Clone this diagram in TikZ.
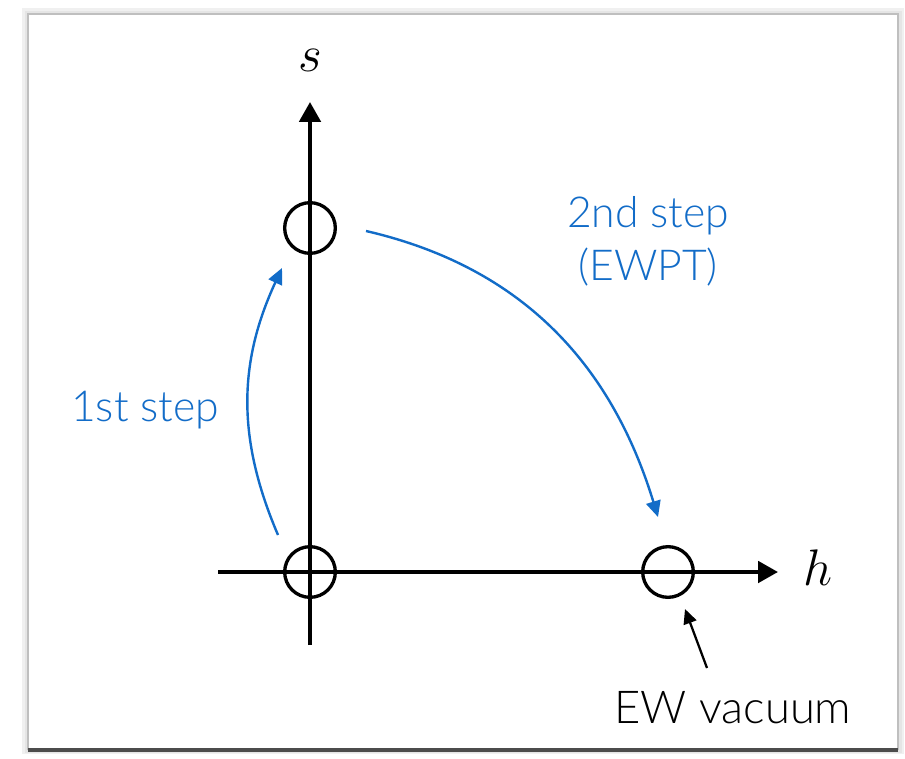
\documentclass[tikz,border=0pt]{standalone}
\usepackage{graphicx}
\usepackage{fontspec}
\setmainfont{Lato}[UprightFont=* Light]
\usetikzlibrary{arrows.meta}
\definecolor{stepblue}{RGB}{18,108,200}
\newcommand{\bigvar}[1]{\scalebox{1.55}{\fontsize{24.88}{30}\selectfont $#1$}}
\begin{document}
\begin{tikzpicture}[x=0.75pt, y=0.75pt,
        vac/.style={circle, draw, line width=2.5pt, minimum size=38pt, inner sep=0pt},
        axis/.style={line width=3pt, -{Triangle[length=15pt, width=16pt]}},
        steparrow/.style={stepblue, line width=1.8pt, -{Triangle[length=12pt, width=11pt]}},
        steplabel/.style={stepblue, font=\fontsize{32}{40}\selectfont, align=center}]
        \useasboundingbox (0, 0) rectangle (905, 758);

        % card with shadow
        \fill[black!6] (22, 4) rectangle (904, 750);
        \fill[black!10] (25, 5) rectangle (902, 747);
        \fill[white] (28, 8) rectangle (898, 744);
        \draw[black!25, line width=1pt] (28, 8) -- (28, 744) -- (898, 744) -- (898, 8);
        \draw[black!70, line width=2.5pt] (28, 8) -- (898, 8);

        % axes
        \draw[axis] (218, 186) -- (778, 186);
        \draw[axis] (310, 113) -- (310, 656);
        \node (hlab) at (818, 190) {\bigvar{h}};
        \node (slab) at (310, 698) {\bigvar{s}};

        % vacua
        \node[vac] (orig) at (310, 186) {};
        \node[vac] (svac) at (310, 530) {};
        \node[vac] (ewvac) at (668, 186) {};

        % steps
        \coordinate (a1) at (278, 223);
        \coordinate (b1) at (282, 490);
        \draw[steparrow] (a1) to[bend left=24] (b1);
        \node[steplabel] (first) at (145, 348) {1st step};

        \coordinate (a2) at (366, 527);
        \coordinate (b2) at (658, 241);
        \draw[steparrow] (a2) to[out=-13, in=107] (b2);
        \node[steplabel] (second) at (648, 517) {2nd step\\(EWPT)};

        \node[font=\fontsize{34}{40}\selectfont] (ewlab) at (733, 50) {EW vacuum};
        \coordinate (c1) at (707, 90);
        \coordinate (c2) at (685, 149);
        \draw[line width=1.7pt, -{Triangle[length=11pt, width=10pt]}] (c1) -- (c2);
    \end{tikzpicture}
\end{document}
